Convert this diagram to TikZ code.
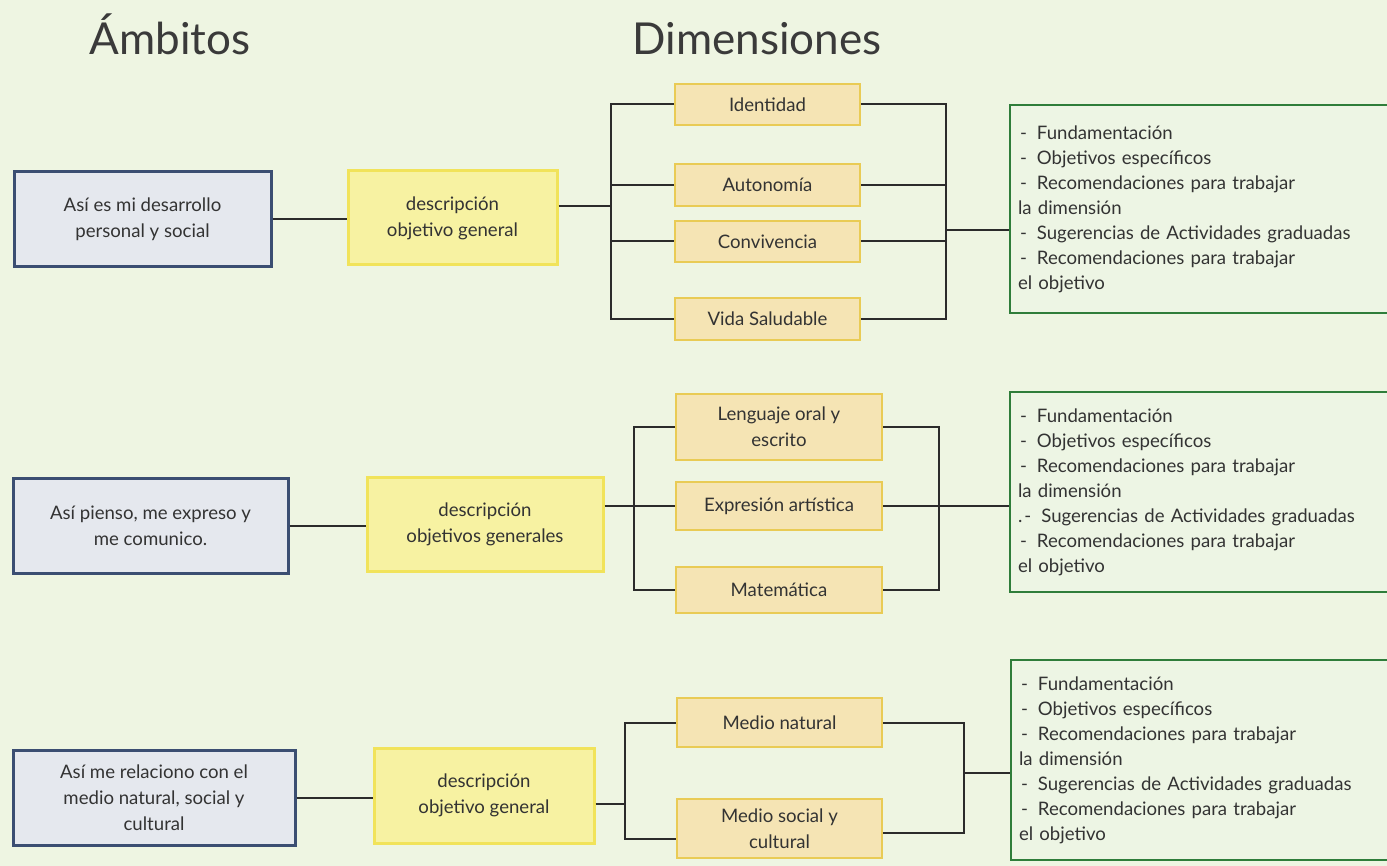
\documentclass[tikz,border=0pt]{standalone}
\usepackage{fontspec}
\setmainfont{Lato}
\definecolor{bgC}{HTML}{EEF5E2}
\definecolor{ambF}{HTML}{E5E8EE}
\definecolor{ambB}{HTML}{3B4E72}
\definecolor{descF}{HTML}{F7F2A2}
\definecolor{descB}{HTML}{F1E35A}
\definecolor{dimF}{HTML}{F5E4B4}
\definecolor{dimB}{HTML}{E9CB55}
\definecolor{contF}{HTML}{EDF5E4}
\definecolor{contB}{HTML}{2F7D3A}
\definecolor{lineC}{HTML}{2B2B2B}
\definecolor{txtC}{HTML}{333333}
\definecolor{titleC}{HTML}{3A3A3A}
\newcommand{\boxfont}{\fontsize{9.3}{13}\selectfont}
\newcommand{\contfont}{\fontsize{9.3}{12.5}\selectfont}
\newcommand{\conttext}[1]{\hspace{1pt}-\hspace{5pt}Fundamentación\\\hspace{1pt}-\hspace{5pt}Objetivos específicos\\\hspace{1pt}-\hspace{5pt}Recomendaciones para trabajar\\la dimensión\\#1\hspace{1pt}-\hspace{5pt}Sugerencias de Actividades graduadas\\\hspace{1pt}-\hspace{5pt}Recomendaciones para trabajar\\el objetivo}
\begin{document}
\begin{tikzpicture}[x=0.5pt,y=-0.5pt,
  amb/.style={draw=ambB, fill=ambF, line width=1.5pt, inner sep=0pt, align=center, font=\boxfont, text=txtC},
  desc/.style={draw=descB, fill=descF, line width=1.5pt, inner sep=0pt, align=center, font=\boxfont, text=txtC},
  dimbox/.style={draw=dimB, fill=dimF, line width=1.3pt, inner sep=0pt, align=center, font=\boxfont, text=txtC, minimum width=#1},
  contbox/.style={draw=contB, fill=contF, line width=1.3pt, inner xsep=4pt, inner ysep=0pt, text width=187pt, align=left, font=\contfont, text=txtC},
  conn/.style={draw=lineC, line width=1pt},
  title/.style={font=\fontsize{22}{26}\selectfont, text=titleC, inner sep=0pt}]
\useasboundingbox (0,0) rectangle (1387,866);
\fill[bgC] (0,0) rectangle (1387,866);
\clip (0,0) rectangle (1387,866);

% titles
\node[title, anchor=base] (t1) at (170,55) {Ámbitos};
\node[title, anchor=base] (t2) at (757,55) {Dimensiones};

% ---------- section 1
\node[amb, minimum width=128.5pt, minimum height=47.5pt] (a1) at (142.5,219.5) {Así es mi desarrollo\\personal y social};
\node[desc, minimum width=104.5pt, minimum height=47pt] (y1) at (452.5,218) {descripción\\objetivo general};
\node[dimbox=92.5pt, minimum height=20.5pt] (d1) at (767.5,104.5) {Identidad};
\node[dimbox=92.5pt, minimum height=21pt] (d2) at (767.5,185) {Autonomía};
\node[dimbox=92.5pt, minimum height=20.5pt] (d3) at (767.5,241.5) {Convivencia};
\node[dimbox=92.5pt, minimum height=21pt] (d4) at (767.5,319) {Vida Saludable};
\node[contbox, minimum width=195pt, minimum height=104pt] (g1) at (1205,209) {\conttext{}};

\coordinate (b1L) at (611,0);
\coordinate (b1R) at (946,0);
\coordinate (j1) at (611,206);
\coordinate (c1) at (946,230);
\draw[conn] (a1.east) -- (a1.east -| y1.west);
\draw[conn] (y1.east |- j1) -- (j1);
\draw[conn] (d1.west) -- (d1.west -| b1L) -- (d4.west -| b1L) -- (d4.west);
\draw[conn] (d2.west) -- (d2.west -| b1L);
\draw[conn] (d3.west) -- (d3.west -| b1L);
\draw[conn] (d1.east) -- (d1.east -| b1R) -- (d4.east -| b1R) -- (d4.east);
\draw[conn] (d2.east) -- (d2.east -| b1R);
\draw[conn] (d3.east) -- (d3.east -| b1R);
\draw[conn] (c1) -- (c1 -| g1.west);

% ---------- section 2
\node[amb, minimum width=137.5pt, minimum height=47.5pt] (a2) at (150.5,525.5) {Así pienso, me expreso y\\me comunico.};
\node[desc, minimum width=118pt, minimum height=47pt] (y2) at (485,524) {descripción\\objetivos generales};
\node[dimbox=103pt, minimum height=33pt] (d5) at (779,427) {Lenguaje oral y\\escrito};
\node[dimbox=103pt, minimum height=24pt] (d6) at (779,506) {Expresión artística};
\node[dimbox=103pt, minimum height=23pt] (d7) at (779,590) {Matemática};
\node[contbox, minimum width=195pt, minimum height=100pt] (g2) at (1205,492) {\conttext{.}};

\coordinate (b2L) at (634,0);
\coordinate (b2R) at (939,0);
\draw[conn] (a2.east) -- (a2.east -| y2.west);
\draw[conn] (d6.west -| y2.east) -- (d6.west);
\draw[conn] (d5.west) -- (d5.west -| b2L) -- (d7.west -| b2L) -- (d7.west);
\draw[conn] (d5.east) -- (d5.east -| b2R) -- (d7.east -| b2R) -- (d7.east);
\draw[conn] (d6.east) -- (d6.east -| g2.west);

% ---------- section 3
\node[amb, minimum width=141pt, minimum height=47.5pt] (a3) at (154,797.5) {Así me relaciono con el\\medio natural, social y\\cultural};
\node[desc, minimum width=110pt, minimum height=47.5pt] (y3) at (484,795.5) {descripción\\objetivo general};
\node[dimbox=102.5pt, minimum height=24.5pt] (d8) at (779.5,722.5) {Medio natural};
\node[dimbox=102.5pt, minimum height=29.5pt] (d9) at (779.5,828.5) {Medio social y\\cultural};
\node[contbox, minimum width=195pt, minimum height=100pt] (g3) at (1206,760) {\conttext{}};

\coordinate (b3L) at (625,0);
\coordinate (b3R) at (964,0);
\coordinate (c3) at (964,773);
\draw[conn] (a3.east) -- (a3.east -| y3.west);
\draw[conn] ([yshift=-4pt]y3.east) -- ([yshift=-4pt]y3.east -| b3L);
\draw[conn] (d8.west) -- (d8.west -| b3L) -- ([yshift=-5pt]d9.west -| b3L) -- ([yshift=-5pt]d9.west);
\draw[conn] (d8.east) -- (d8.east -| b3R) -- ([yshift=-2pt]d9.east -| b3R) -- ([yshift=-2pt]d9.east);
\draw[conn] (c3) -- (c3 -| g3.west);
\end{tikzpicture}
\end{document}
